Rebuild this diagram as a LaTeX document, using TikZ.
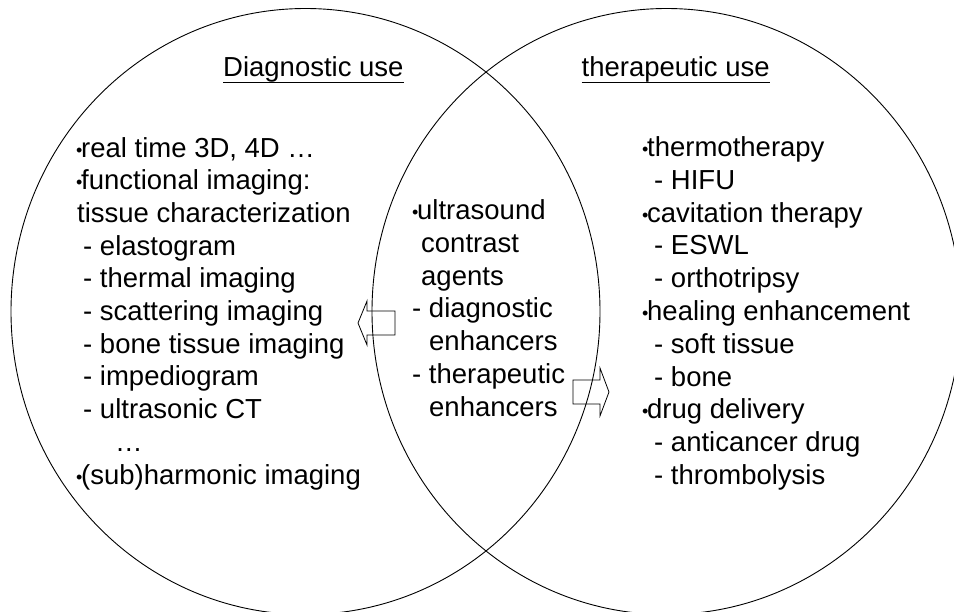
\documentclass[tikz,border=0pt]{standalone}
\usepackage{fontspec}
\setmainfont{Liberation Sans}

\newcommand\bul{\makebox[5pt][l]{\raisebox{1pt}{\fontsize{18}{18}\selectfont •}}}

\begin{document}
\begin{tikzpicture}[x=1pt, y=-1pt,
  item/.style={anchor=base west, inner sep=0pt, font={\fontsize{27.5}{33}\selectfont}},
  ring/.style={line width=0.9pt},
  blockarrow/.style={draw, line width=0.8pt, line join=miter}]
  \useasboundingbox (0,0) rectangle (954,611);
  % Circles
  \draw[ring] (305.5,311.5) ellipse [x radius=294.5pt, y radius=303pt];
  \draw[ring] (666.5,311.5) ellipse [x radius=294.5pt, y radius=303pt];
  % Headings
  \node[item] (diagtitle) at (223,76.5) {Diagnostic use};
  \node[item] (thertitle) at (581.5,76.5) {therapeutic use};
  \draw[line width=1pt] ([yshift=-5.5pt]diagtitle.base west) -- ([yshift=-5.5pt]diagtitle.base east);
  \draw[line width=1pt] ([yshift=-5.5pt]thertitle.base west) -- ([yshift=-5.5pt]thertitle.base east);
  % Diagnostic list
  \foreach \dx/\txt [count=\i] in {0/{\bul real time 3D, 4D …}, 0/{\bul functional imaging:},
      1/{tissue characterization}, 7/{- elastogram}, 7/{- thermal imaging},
      7/{- scattering imaging}, 7/{- bone tissue imaging}, 7/{- impediogram},
      7/{- ultrasonic CT}, 39/{…}, 0/{\bul (sub)harmonic imaging}} {
    \node[item] (diag\i) at ({76+\dx}, {157+32.7*(\i-1)}) {\txt};
  }
  % Shared list
  \foreach \dx/\txt [count=\i] in {0/{\bul ultrasound}, 9/{contrast}, 9/{agents},
      0/{- diagnostic}, 17/{enhancers}, 0/{- therapeutic}, 17/{enhancers}} {
    \node[item] (both\i) at ({412+\dx}, {219.5+32.8*(\i-1)}) {\txt};
  }
  % Therapeutic list
  \foreach \dx/\txt [count=\i] in {0/{\bul thermotherapy}, 12/{- HIFU},
      0/{\bul cavitation therapy}, 12/{- ESWL}, 12/{- orthotripsy},
      0/{\bul healing enhancement}, 12/{- soft tissue}, 12/{- bone},
      0/{\bul drug delivery}, 12/{- anticancer drug}, 12/{- thrombolysis}} {
    \node[item] (ther\i) at ({642+\dx}, {156.5+32.8*(\i-1)}) {\txt};
  }
  % Block arrows
  \coordinate (ltip) at (358,323);
  \coordinate (rtip) at (609,392);
  \draw[blockarrow] (ltip) -- ++(9,-22) -- ++(0,10) -- ++(28,0) -- ++(0,24)
    -- ++(-28,0) -- ++(0,10) -- cycle;
  \draw[blockarrow] (rtip) -- ++(-9,-24) -- ++(0,12) -- ++(-27,0) -- ++(0,24)
    -- ++(27,0) -- ++(0,12) -- cycle;
\end{tikzpicture}
\end{document}
